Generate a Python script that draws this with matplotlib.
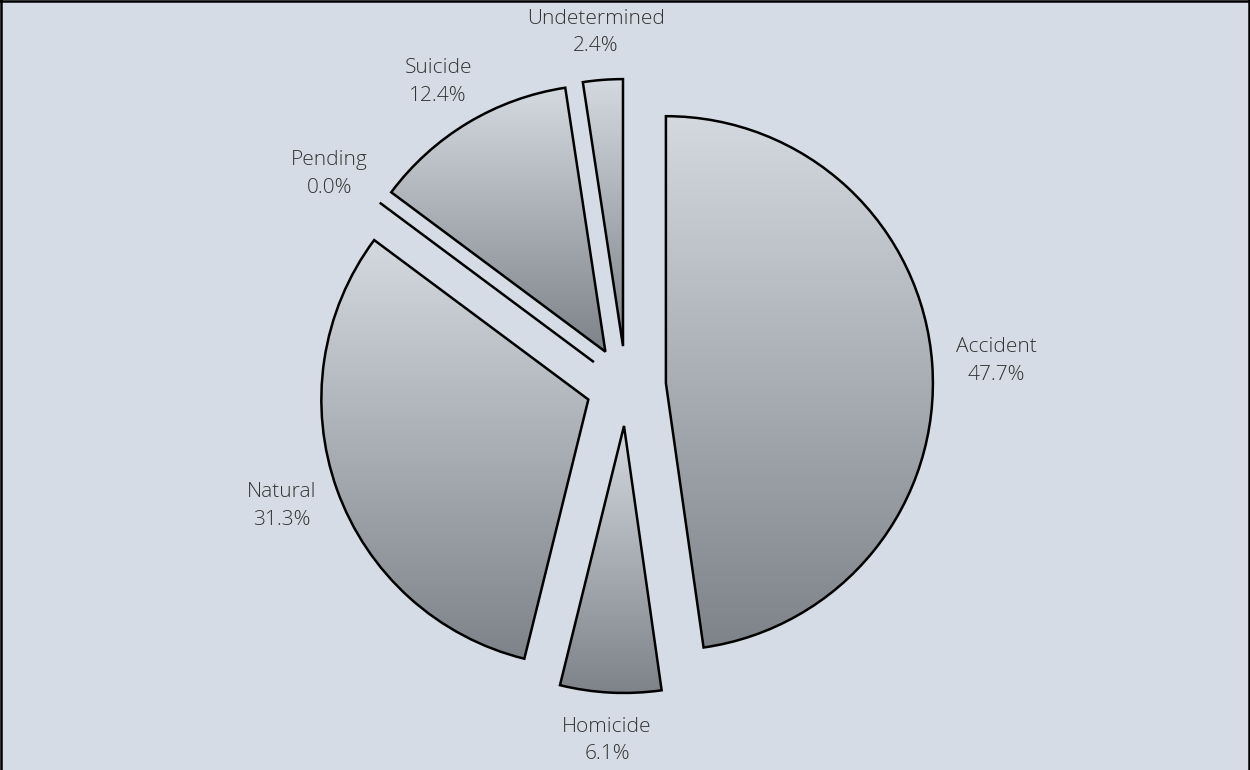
import matplotlib
matplotlib.use("Agg")
import matplotlib.pyplot as plt
import numpy as np
from matplotlib.colors import LinearSegmentedColormap
from matplotlib.lines import Line2D

labels = ["Accident", "Homicide", "Natural", "Pending", "Suicide", "Undetermined"]
shares = [47.7, 6.1, 31.3, 0.0, 12.4, 2.4]

plt.rcParams['font.family'] = ['Open Sans', 'DejaVu Sans']

bg = "#D6DCE5"
W, H = 1250, 770
R = 267          # pie radius in pixels
C = (626, 384)   # pie centre (pixels from bottom-left)
EXPL = 40

fig = plt.figure(figsize=(W / 100, H / 100), dpi=100, facecolor=bg)
ax = fig.add_axes([0, 0, 1, 1])
ax.set_facecolor(bg)

wedges, _ = ax.pie(shares, radius=R, center=C, startangle=90, counterclock=False,
                   explode=[EXPL] * len(shares), frame=False,
                   wedgeprops=dict(edgecolor="black", linewidth=1.8, facecolor="none",
                                   joinstyle="miter"))

# vertical gradient inside every wedge (light top -> dark bottom)
cmap = LinearSegmentedColormap.from_list("g", ["#7E8289", "#D4D9E0"])
grad = np.linspace(0, 1, 256).reshape(-1, 1)
for w in wedges:
    ext = w.get_path().get_extents()
    if ext.width < 1:
        continue
    im = ax.imshow(grad, cmap=cmap, origin="lower", aspect="auto",
                   extent=(ext.x0, ext.x1, ext.y0, ext.y1), zorder=0)
    im.set_clip_path(w)

# labels outside the wedges
fig.canvas.draw()
renderer = fig.canvas.get_renderer()
total = sum(shares)
theta = 90.0
for lab, val, w in zip(labels, shares, wedges):
    span = 360.0 * val / total
    mid = np.deg2rad(theta - span / 2)
    theta -= span
    t = ax.text(0, 0, f"{lab}\n{val:.1f}%", ha="center", va="center", fontsize=15,
                fontweight="light", color="#333333", linespacing=1.5,
                multialignment="center")
    bb = t.get_window_extent(renderer)
    ux, uy = np.cos(mid), np.sin(mid)
    d = R + EXPL + 24
    t.set_position((C[0] + ux * d + ux * bb.width / 2,
                    C[1] + uy * d + uy * bb.height / 2))

ax.set_xlim(0, W)
ax.set_ylim(0, H)
ax.set_aspect("equal")
ax.axis("off")

# chart border (left, top, right)
for xs, ys in [([0.001, 0.001], [0, 1]), ([0, 1], [0.999, 0.999]), ([0.999, 0.999], [0, 1])]:
    fig.add_artist(Line2D(xs, ys, transform=fig.transFigure, color="black", lw=1.8))

fig.savefig("out.png", dpi=100, facecolor=bg)
